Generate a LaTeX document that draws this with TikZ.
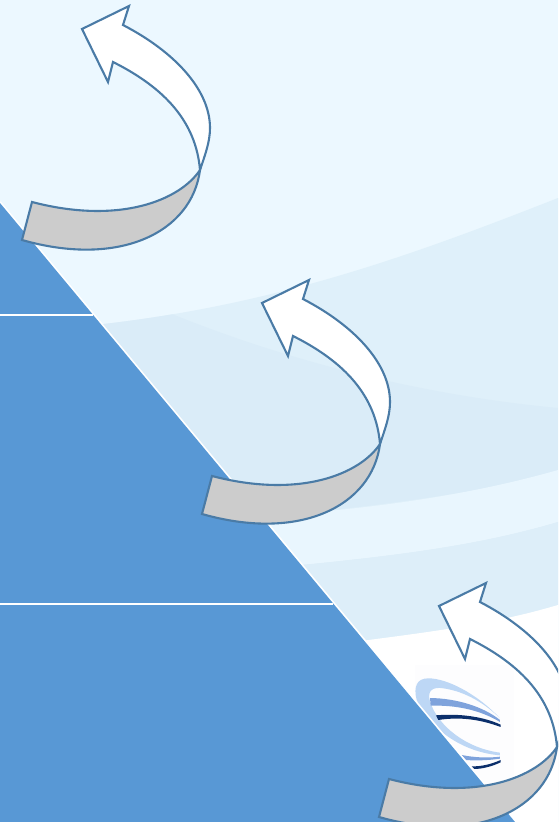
\documentclass[tikz,border=0pt]{standalone}
\definecolor{skytop}{HTML}{ECF8FF}
\definecolor{bandA}{HTML}{DFF0FA}
\definecolor{bandB}{HTML}{DAECF8}
\definecolor{bandC}{HTML}{E9F6FE}
\definecolor{bandD}{HTML}{DDEEF9}
\definecolor{slope}{HTML}{5898D5}
\definecolor{edge}{HTML}{4A7BA6}
\definecolor{ribbon}{HTML}{CCCCCC}
\definecolor{logoL}{HTML}{BDD7F5}
\definecolor{logoM}{HTML}{7FA3DC}
\definecolor{logoD}{HTML}{0B2F6B}
\definecolor{logoBg}{HTML}{FDFDFE}
\tikzset{
  arrowfront/.style={draw=edge,fill=white,line width=2.1pt,line join=miter},
  arrowback/.style={draw=edge,fill=ribbon,line width=2.1pt,line join=miter},
  rule/.style={draw=white,line width=2pt}
}
\newcommand{\curlarrow}[2]{%
  \begin{scope}[shift={(#1,#2)}]
    \path[arrowback] (200,170) .. controls (180,200) and (120,225) .. (32,202)
      -- (22,240) .. controls (120,268) and (192,232) .. (200,170) -- cycle;
    \path[arrowfront] (82,29) -- (129,6) -- (123,25)
      .. controls (175,52) and (210,90) .. (210,128)
      .. controls (210,142) and (205,155) .. (200,170)
      .. controls (196,122) and (165,88) .. (113,62)
      -- (108,82) -- cycle;
  \end{scope}}
\begin{document}
\begin{tikzpicture}[x=1pt,y=-1pt]
\useasboundingbox (0,0) rectangle (558,822);
\clip (0,0) rectangle (558,822);
% sky
\fill[skytop] (0,0) rectangle (558,822);
\fill[bandA] (40,330) .. controls (250,315) and (400,260) .. (558,198) -- (558,822) -- (40,822) -- cycle;
\begin{scope}
  \clip (40,330) .. controls (250,315) and (400,260) .. (558,198) -- (558,822) -- (40,822) -- cycle;
  \fill[bandB] (60,270) -- (150,305) .. controls (280,360) and (420,395) .. (558,408) -- (558,475)
    .. controls (480,490) and (400,505) .. (250,518) -- (60,518) -- cycle;
\end{scope}
\fill[bandC] (230,518) .. controls (350,512) and (460,498) .. (558,470) -- (558,522)
  .. controls (480,545) and (400,556) .. (270,568) -- cycle;
\fill[bandD] (270,568) .. controls (400,556) and (480,545) .. (558,522) -- (558,605)
  .. controls (490,625) and (430,632) .. (330,645) -- cycle;
\fill[white] (330,645) .. controls (430,632) and (490,625) .. (558,605) -- (558,822) -- (330,822) -- cycle;
% logo
\fill[logoBg] (415,665) rectangle (514,790);
\begin{scope}[shift={(370,570)},x=0.3333pt,y=-0.3333pt]
  \fill[logoL] (390,445) .. controls (320,370) and (230,325) .. (175,325)
    .. controls (140,325) and (130,350) .. (140,390)
    .. controls (170,460) and (260,545) .. (390,556) -- (390,548)
    .. controls (290,535) and (205,470) .. (180,395)
    .. controls (170,360) and (190,350) .. (220,355)
    .. controls (290,365) and (350,405) .. (390,445) -- cycle;
  \fill[logoM] (180,384) .. controls (260,385) and (340,410) .. (390,450) -- (390,456)
    .. controls (330,420) and (260,405) .. (182,407) -- cycle;
  \fill[logoD] (198,436) .. controls (270,430) and (340,440) .. (392,464) -- (392,471)
    .. controls (330,448) and (270,440) .. (205,450) -- cycle;
  \fill[logoM] (275,555) .. controls (310,562) and (350,565) .. (390,560) -- (390,566)
    .. controls (350,572) and (310,572) .. (288,570) -- cycle;
  \fill[logoD] (305,589) .. controls (335,590) and (365,582) .. (392,570) -- (392,577)
    .. controls (365,590) and (335,597) .. (313,597) -- cycle;
\end{scope}
% blue slope
\draw[white,line width=2pt] (0,202) -- (516,822);
\fill[slope] (0,203) -- (515,822) -- (0,822) -- cycle;
\path[rule] (0,314.5) -- (93,314.5);
\path[rule] (0,603.5) -- (333,603.5);
% arrows
\curlarrow{0}{0}
\curlarrow{180}{274}
\curlarrow{357}{577}
\end{tikzpicture}
\end{document}
